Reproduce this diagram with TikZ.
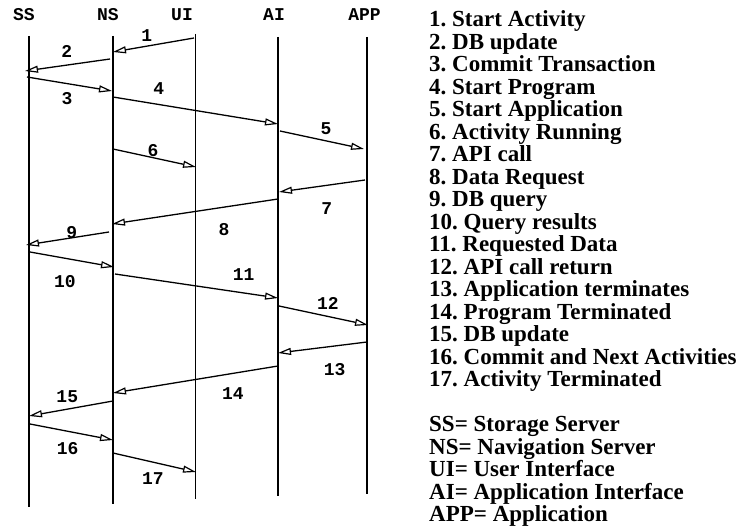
\documentclass[tikz,border=0pt]{standalone}
\usepackage{fontspec}
\setmainfont{Liberation Serif}
\newfontfamily\monob{Liberation Mono}
\usetikzlibrary{arrows.meta}
\begin{document}
\begin{tikzpicture}[x=1pt,y=-1pt,
  life/.style={line width=1.4pt},
  msg/.style={line width=1.3pt,-{Triangle[open,length=13pt,width=7pt,line width=1.2pt]}},
  head/.style={font=\monob\bfseries\fontsize{18}{18}\selectfont,inner sep=0pt},
  num/.style={font=\monob\bfseries\fontsize{18}{18}\selectfont,inner sep=0pt},
  legend/.style={font=\bfseries\frenchspacing\fontsize{23}{23}\selectfont,inner sep=0pt,anchor=base west}]
\useasboundingbox (0,0) rectangle (741,529);
% headers
\node[head] (hSS) at (24,15) {SS};
\node[head] (hNS) at (108,15) {NS};
\node[head] (hUI) at (182,15) {UI};
\node[head] (hAI) at (274,15) {AI};
\node[head] (hAPP) at (364.5,15) {APP};
% lifelines
\coordinate (ssT) at (29,36);   \coordinate (ssB) at (29,507);
\coordinate (nsT) at (113,36);  \coordinate (nsB) at (113,504);
\coordinate (uiT) at (195.5,34);\coordinate (uiB) at (195.5,499);
\coordinate (aiT) at (278,37);  \coordinate (aiB) at (278,496);
\coordinate (apT) at (367,37);  \coordinate (apB) at (367,494);
\draw[life] (ssT) -- (ssB);
\draw[life] (nsT) -- (nsB);
\draw[life] (uiT) -- (uiB);
\draw[life] (aiT) -- (aiB);
\draw[life] (apT) -- (apB);
% message endpoints
\coordinate (a1) at (194,38);  \coordinate (b1) at (113,52);
\coordinate (a2) at (110,59);  \coordinate (b2) at (25,71);
\coordinate (a3) at (27,77);   \coordinate (b3) at (112,91);
\coordinate (a4) at (113,97);  \coordinate (b4) at (278,124);
\coordinate (a5) at (280,131); \coordinate (b5) at (364,149);
\coordinate (a6) at (113,149); \coordinate (b6) at (196,167);
\coordinate (a7) at (365,180); \coordinate (b7) at (279,192);
\coordinate (a8) at (278,199); \coordinate (b8) at (112,224);
\coordinate (a9) at (109,232); \coordinate (b9) at (26,245);
\coordinate (a10) at (30,252); \coordinate (b10) at (114,267);
\coordinate (a11) at (115,274);\coordinate (b11) at (278,298);
\coordinate (a12) at (279,306);\coordinate (b12) at (368,325);
\coordinate (a13) at (367,342);\coordinate (b13) at (278,353);
\coordinate (a14) at (278,366);\coordinate (b14) at (113,393);
\coordinate (a15) at (113,401);\coordinate (b15) at (29,416);
\coordinate (a16) at (30,424); \coordinate (b16) at (113,440);
\coordinate (a17) at (113,453);\coordinate (b17) at (196,472);
\foreach \k in {1,...,17} {\draw[msg] (a\k) -- (b\k);}
% message numbers
\node[num] (n1) at (146.7,36) {1};
\node[num] (n2) at (66.7,51.7) {2};
\node[num] (n3) at (67,99) {3};
\node[num] (n4) at (158.7,89) {4};
\node[num] (n5) at (326,129) {5};
\node[num] (n6) at (153,151) {6};
\node[num] (n7) at (326.7,208.5) {7};
\node[num] (n8) at (224,229.3) {8};
\node[num] (n9) at (71.7,233) {9};
\node[num] (n10) at (65,281.7) {10};
\node[num] (n11) at (243.7,275) {11};
\node[num] (n12) at (327.8,303) {12};
\node[num] (n13) at (334.7,370) {13};
\node[num] (n14) at (232.8,393.8) {14};
\node[num] (n15) at (67.3,397) {15};
\node[num] (n16) at (67.7,448.8) {16};
\node[num] (n17) at (152.8,478.3) {17};
% legend
\foreach \t [count=\i] in {1. Start Activity,2. DB update,3. Commit Transaction,4. Start Program,5. Start Application,6. Activity Running,7. API call,8. Data Request,9. DB query,10. Query results,11. Requested Data,12. API call return,13. Application terminates,14. Program Terminated,15. DB update,16. Commit and Next Activities,17. Activity Terminated}
  {\node[legend] (k\i) at (429,{26.7+22.5*(\i-1)}) {\t};}
\foreach \t [count=\i] in {SS= Storage Server,NS= Navigation Server,UI= User Interface,AI= Application Interface,APP= Application}
  {\node[legend] (g\i) at (429,{431.7+22.5*(\i-1)}) {\t};}
\end{tikzpicture}
\end{document}
